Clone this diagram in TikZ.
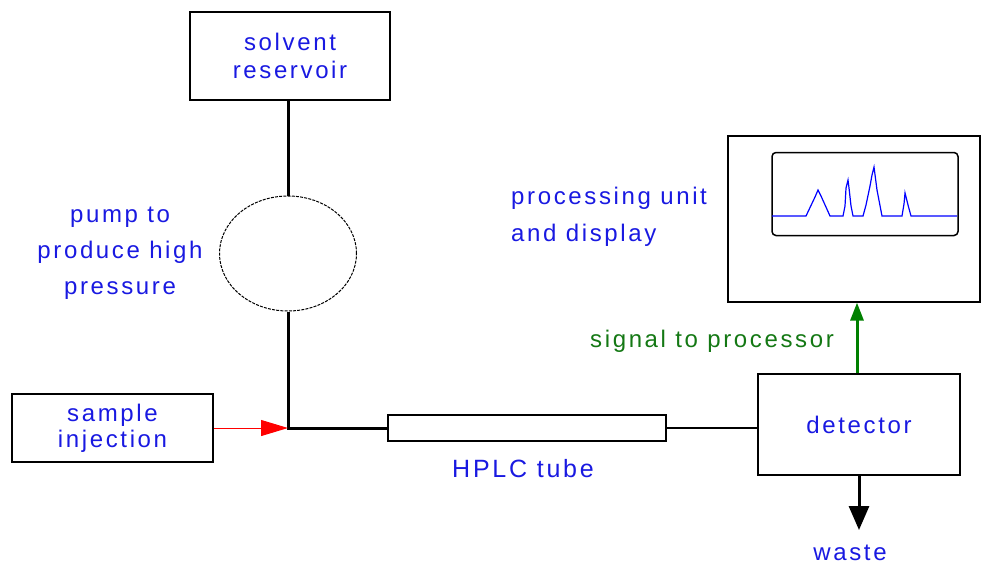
\documentclass[tikz,border=0pt]{standalone}
\usepackage{fontspec}
\setmainfont{Liberation Sans}[LetterSpace=11]
\usetikzlibrary{shapes.geometric,arrows.meta}
\definecolor{lblue}{RGB}{25,25,225}
\definecolor{lgreen}{RGB}{20,120,20}
\definecolor{agreen}{RGB}{0,128,0}
\tikzset{
  box/.style={draw=black, line width=1.2pt, fill=none, inner sep=0pt, minimum width=#1},
  lbl/.style={text=lblue, font=\fontsize{24}{28}\selectfont, inner sep=0pt},
  pipe/.style={line width=3pt, black},
}
\begin{document}
\begin{tikzpicture}[x=1pt,y=-1pt]
\useasboundingbox (0,0) rectangle (992,566);
% boxes
\node[box=200pt, minimum height=88pt, lbl, text=lblue, align=center] (res) at (290,56) {solvent\\reservoir};
\node[draw=black, line width=1pt, dashed, dash pattern=on 3pt off 1.2pt, ellipse, minimum width=137pt, minimum height=115pt, inner sep=0pt] (pump) at (288,253.5) {};
\node[box=201pt, minimum height=68pt, lbl, align=center, font=\fontsize{24}{26}\selectfont] (samp) at (112.5,428) {sample\\injection};
\node[box=278pt, minimum height=26pt] (tube) at (527,428) {};
\node[box=202pt, minimum height=101pt, lbl] (det) at (859,424.5) {detector};
\node[box=252pt, minimum height=166pt] (disp) at (854,219) {};
\node[draw=black, line width=1.5pt, rounded corners=4pt, minimum width=186pt, minimum height=83pt, inner sep=0pt] (scr) at (865,194) {};
\coordinate (j) at (288,428);
\coordinate (wend) at (859,530);
% labels
\node[lbl, align=center, font=\fontsize{24}{36}\selectfont] (pumplbl) at (120,253) {pump to\\produce high\\pressure};
\node[lbl, align=left, anchor=west, font=\fontsize{24}{37}\selectfont] (proc) at (511,217) {processing unit\\and display};
\node[lbl, text=lgreen] (sig) at (712,341) {signal to processor};
\node[lbl, font=\fontsize{25}{28}\selectfont] (hplc) at (523,469) {HPLC tube};
\node[lbl] (waste) at (850,553) {waste};
% connectors
\draw[pipe] (pump.north |- res.south) -- (pump.north);
\draw[pipe] (pump.south) -- (j) -- (tube.west);
\draw[line width=2pt] (tube.east) -- (tube.east -| det.west);
\draw[red, line width=1pt, -{Triangle[length=27pt,width=16pt]}] (samp.east) -- (j);
\draw[agreen, line width=3pt, -{Triangle[length=18pt,width=13pt]}] (det.north -| 857,0) -- (disp.south -| 857,0);
\draw[line width=3pt, -{Triangle[length=24pt,width=20pt]}] (det.south) -- (wend);
% chromatogram
\draw[blue, line width=1.2pt] (772,216) -- (806,216) -- (815,197) -- (818,190) -- (821,196) -- (830,216)
  -- (843,216) -- (845,206) -- (846,188) -- (848,180) -- (849,188) -- (851,206) -- (853,216)
  -- (863,216) -- (866,205) -- (870,186) -- (872,175) -- (874,167) -- (877,190) -- (882,216)
  -- (902,216) -- (904,204) -- (905,193) -- (908,205) -- (911,216) -- (957,216);
\end{tikzpicture}
\end{document}
